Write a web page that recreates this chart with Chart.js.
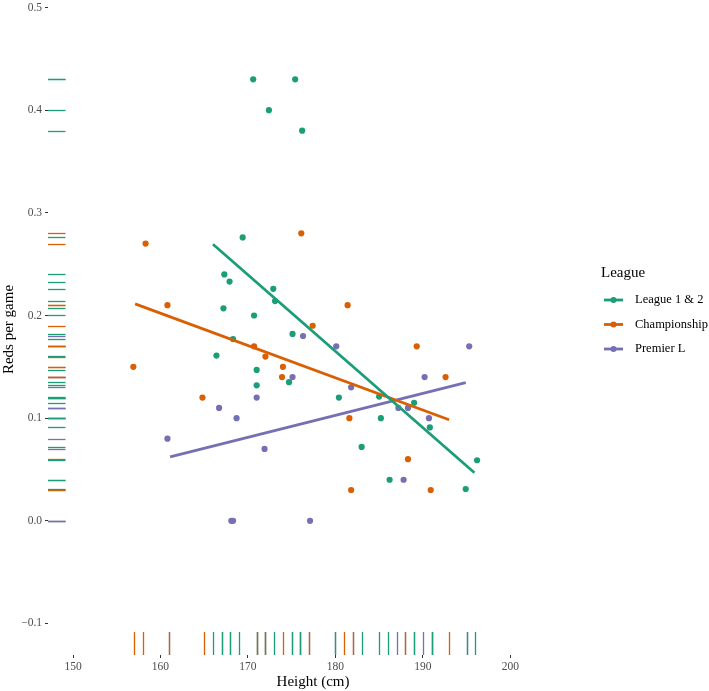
<!DOCTYPE html>
<html>
<head>
<meta charset="utf-8">
<script src="https://cdn.jsdelivr.net/npm/chart.js@4/dist/chart.umd.min.js"></script>
<style>
  html, body { margin: 0; padding: 0; background: #fff; }
</style>
</head>
<body>
<canvas id="chart" width="709" height="691"></canvas>
<script>
// Tick labels
const xTicks = [150, 160, 170, 180, 190, 200];
const yTicks = [-0.1, 0, 0.1, 0.2, 0.3, 0.4, 0.5];

const leagues = ['League 1 & 2', 'Championship', 'Premier L'];
const colors = ['#1B9E77', '#D95F02', '#7570B3'];

// League 1 & 2 points (height as plotted, reds per game)
const l12X = [170.6, 175.4, 172.4, 176.2, 169.4, 167.3, 167.9, 172.9, 173.1, 167.2, 170.7, 175.1, 168.3,
  166.4, 171.0, 174.7, 171.0, 180.4, 185.0, 189.0, 185.2, 190.8, 183.0, 196.2, 186.2, 194.9];
const l12Y = [0.43, 0.43, 0.40, 0.38, 0.276, 0.24, 0.233, 0.226, 0.214, 0.207, 0.20, 0.182, 0.177,
  0.161, 0.147, 0.135, 0.132, 0.12, 0.121, 0.115, 0.10, 0.091, 0.072, 0.059, 0.04, 0.031];
const l12Rug = [166, 167, 168, 169, 171, 172, 173, 175, 176, 180, 183, 185, 186, 189, 191, 195, 196];

// Championship points
const chX = [158.3, 156.9, 160.8, 176.1, 177.4, 170.7, 172.0, 174.0, 173.9, 164.8, 181.4, 181.6, 181.8,
  189.3, 192.6, 188.3, 190.9];
const chY = [0.27, 0.15, 0.21, 0.28, 0.19, 0.17, 0.16, 0.15, 0.14, 0.12, 0.21, 0.10, 0.03,
  0.17, 0.14, 0.06, 0.03];
const chRug = [157, 158, 161, 165, 171, 172, 174, 176, 177, 181, 182, 188, 189, 191, 193];

// Premier League points
const plX = [176.3, 175.1, 171.0, 166.7, 168.7, 160.8, 171.9, 168.1, 168.3, 177.1, 180.1, 195.3,
  190.2, 181.8, 187.2, 188.3, 190.7, 187.8];
const plY = [0.18, 0.14, 0.12, 0.11, 0.10, 0.08, 0.07, 0, 0, 0, 0.17, 0.17,
  0.14, 0.13, 0.11, 0.11, 0.10, 0.04];
const plRug = [161, 167, 168, 171, 172, 175, 176, 177, 180, 182, 187, 188, 190, 191, 195];

// Fitted lines (end points)
const l12FitX = [166.0, 195.9];
const l12FitY = [0.2694, 0.0468];
const chFitX = [157.1, 193.0];
const chFitY = [0.2113, 0.0985];
const plFitX = [161.1, 194.9];
const plFitY = [0.0622, 0.1346];

const serif = "'Liberation Serif', 'Times New Roman', serif";

function pts(xs, ys) {
  return xs.map((x, i) => ({ x: x, y: ys[i] }));
}

const pointSets = [pts(l12X, l12Y), pts(chX, chY), pts(plX, plY)];
const fitSets = [pts(l12FitX, l12FitY), pts(chFitX, chFitY), pts(plFitX, plFitY)];
const rugSets = [l12Rug, chRug, plRug];
const ySets = [l12Y, chY, plY];

const datasets = [];
leagues.forEach((name, i) => {
  datasets.push({
    label: name + ' fit',
    data: fitSets[i],
    showLine: true,
    borderColor: colors[i],
    borderWidth: 2.8,
    pointRadius: 0,
    order: 0
  });
});
leagues.forEach((name, i) => {
  datasets.push({
    label: name,
    data: pointSets[i],
    backgroundColor: colors[i],
    borderWidth: 0,
    pointRadius: 3.1,
    order: 1
  });
});

// rug marks on the left and bottom edges, premier first so green ends up on top
const rugPlugin = {
  id: 'rug',
  beforeDatasetsDraw(chart) {
    const ctx = chart.ctx;
    const area = chart.chartArea;
    const xs = chart.scales.x, ys = chart.scales.y;
    ctx.save();
    ctx.lineWidth = 1.3;
    [2, 1, 0].forEach(g => {
      ctx.strokeStyle = colors[g];
      rugSets[g].forEach(v => {
        const px = Math.round(xs.getPixelForValue(v)) + 0.5;
        ctx.beginPath();
        ctx.moveTo(px, area.bottom - 23);
        ctx.lineTo(px, area.bottom);
        ctx.stroke();
      });
      ySets[g].forEach(v => {
        const py = Math.round(ys.getPixelForValue(v)) + 0.5;
        ctx.beginPath();
        ctx.moveTo(area.left, py);
        ctx.lineTo(area.left + 17.5, py);
        ctx.stroke();
      });
    });
    ctx.restore();
  }
};

const legendPlugin = {
  id: 'ggLegend',
  afterDraw(chart) {
    const ctx = chart.ctx;
    ctx.save();
    ctx.textBaseline = 'middle';
    ctx.textAlign = 'left';
    ctx.fillStyle = '#000';
    ctx.font = '15px ' + serif;
    ctx.fillText('League', 601, 273);
    ctx.font = '12.5px ' + serif;
    leagues.forEach((name, i) => {
      const y = 300 + i * 24.5;
      ctx.strokeStyle = colors[i];
      ctx.lineWidth = 2.8;
      ctx.beginPath();
      ctx.moveTo(604, y);
      ctx.lineTo(623, y);
      ctx.stroke();
      ctx.fillStyle = colors[i];
      ctx.beginPath();
      ctx.arc(613.5, y, 3, 0, Math.PI * 2);
      ctx.fill();
      ctx.fillStyle = '#000';
      ctx.fillText(name, 635, y);
    });
    ctx.restore();
  }
};

function noPad(scale) {
  scale.paddingTop = 0;
  scale.paddingBottom = 0;
  scale.paddingLeft = 0;
  scale.paddingRight = 0;
}

new Chart(document.getElementById('chart'), {
  type: 'scatter',
  data: { datasets: datasets },
  plugins: [rugPlugin, legendPlugin],
  options: {
    responsive: false,
    animation: false,
    devicePixelRatio: 1,
    layout: { padding: { left: 0, top: 0, right: 131, bottom: 0 } },
    plugins: { legend: { display: false }, tooltip: { enabled: false } },
    scales: {
      x: {
        type: 'linear',
        min: 147.14,
        max: 207.74,
        afterBuildTicks: s => { s.ticks = xTicks.map(v => ({ value: v })); },
        afterFit: s => { s.height = 36; noPad(s); },
        ticks: {
          callback: v => String(v),
          font: { family: serif, size: 11.5 },
          color: '#4d4d4d',
          padding: 2,
          maxRotation: 0
        },
        grid: { drawOnChartArea: false, drawTicks: true, tickLength: 3, color: '#333', lineWidth: 1 },
        border: { display: false },
        title: {
          display: true,
          text: 'Height (cm)',
          font: { family: serif, size: 15 },
          color: '#000',
          padding: 0
        }
      },
      y: {
        type: 'linear',
        min: -0.1307,
        max: 0.5034,
        afterBuildTicks: s => { s.ticks = yTicks.map(v => ({ value: v })); },
        afterFit: s => { s.width = 48; noPad(s); },
        ticks: {
          callback: v => (v < 0 ? '\u2212' + Math.abs(v).toFixed(1) : v.toFixed(1)),
          font: { family: serif, size: 11.5 },
          color: '#4d4d4d',
          padding: 3
        },
        grid: { drawOnChartArea: false, drawTicks: true, tickLength: 3, color: '#333', lineWidth: 1 },
        border: { display: false },
        title: {
          display: true,
          text: 'Reds per game',
          font: { family: serif, size: 15 },
          color: '#000',
          padding: 0
        }
      }
    }
  }
});
</script>
</body>
</html>
